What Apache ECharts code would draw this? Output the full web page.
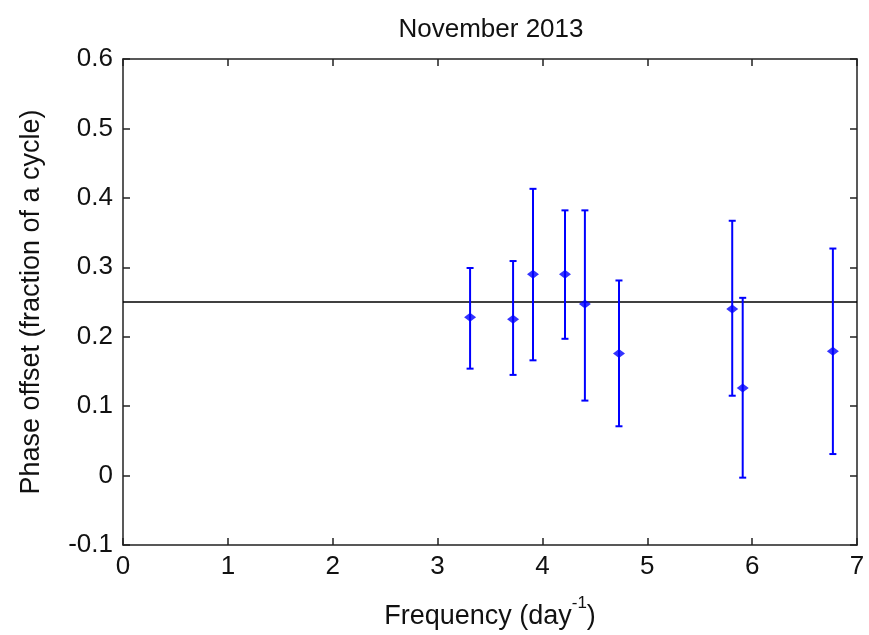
<!DOCTYPE html>
<html>
<head>
<meta charset="utf-8">
<script src="https://cdn.jsdelivr.net/npm/echarts@6/dist/echarts.min.js"></script>
<style>
html,body{margin:0;padding:0;background:#fff;}
#c{width:869px;height:635px;}
</style>
</head>
<body>
<div id="c"></div>
<script>
const titleText = 'November 2013';
const freq = [3.31, 3.72, 3.91, 4.215, 4.405, 4.73, 5.81, 5.91, 6.77];
const phase = [0.228, 0.225, 0.290, 0.290, 0.247, 0.176, 0.240, 0.126, 0.179];
const upper = [0.299, 0.309, 0.413, 0.382, 0.382, 0.281, 0.367, 0.256, 0.327];
const lower = [0.154, 0.145, 0.166, 0.197, 0.108, 0.071, 0.115, -0.003, 0.031];
const refLine = 0.25;
const xTicks = [0, 1, 2, 3, 4, 5, 6, 7];
const yTicks = [-0.1, 0, 0.1, 0.2, 0.3, 0.4, 0.5, 0.6];

const font = 'Liberation Sans, Arial, sans-serif';
const chart = echarts.init(document.getElementById('c'));

const errData = freq.map((f, i) => [f, lower[i], upper[i]]);
const ptData = freq.map((f, i) => [f, phase[i]]);

const baseAxis = {
  axisLine: {show: true, onZero: false, lineStyle: {color: '#222', width: 1.5}},
  axisTick: {show: true, inside: true, length: 7, lineStyle: {color: '#222', width: 1.5}},
  splitLine: {show: false}
};

chart.setOption({
  animation: false,
  backgroundColor: '#fff',
  title: {
    text: titleText, left: 486, top: 12, textAlign: 'center',
    textStyle: {fontFamily: font, fontSize: 26, fontWeight: 'normal', color: '#111'}
  },
  grid: {left: 123, right: 12, top: 59, bottom: 89},
  xAxis: [
    Object.assign({}, baseAxis, {
      type: 'value', min: 0, max: 7, interval: 1, position: 'bottom',
      name: '{a|Frequency (day}{s|-1}{a|)}', nameLocation: 'middle', nameGap: 50,
      nameTextStyle: {rich: {
        a: {fontFamily: font, fontSize: 27, color: '#111', padding: [8, 0, 0, 0]},
        s: {fontFamily: font, fontSize: 17, color: '#111', verticalAlign: 'top', padding: [0, 0, 10, 0]}
      }},
      axisLabel: {fontFamily: font, fontSize: 26, color: '#111', margin: 9,
        formatter: v => xTicks.includes(v) ? String(v) : ''}
    }),
    Object.assign({}, baseAxis, {
      type: 'value', min: 0, max: 7, interval: 1, position: 'top',
      axisLabel: {show: false}
    })
  ],
  yAxis: [
    Object.assign({}, baseAxis, {
      type: 'value', min: -0.1, max: 0.6, interval: 0.1, position: 'left',
      name: 'Phase offset (fraction of a cycle)', nameLocation: 'middle', nameGap: 78,
      nameTextStyle: {fontFamily: font, fontSize: 27, color: '#111'},
      axisLabel: {fontFamily: font, fontSize: 26, color: '#111', margin: 10,
        formatter: v => { const r = Math.round(v * 10) / 10; return r === 0 ? '0' : String(r); }}
    }),
    Object.assign({}, baseAxis, {
      type: 'value', min: -0.1, max: 0.6, interval: 0.1, position: 'right',
      axisLabel: {show: false}
    })
  ],
  series: [
    {
      type: 'line', data: [[0, refLine], [7, refLine]], symbol: 'none',
      lineStyle: {color: '#000', width: 1.5}, z: 1, silent: true
    },
    {
      type: 'custom', data: errData, z: 2,
      encode: {x: 0, y: [1, 2]},
      renderItem: function (params, api) {
        const x = api.value(0);
        const lo = api.coord([x, api.value(1)]);
        const hi = api.coord([x, api.value(2)]);
        const hw = 3.5;
        const style = {stroke: '#0000ff', lineWidth: 2};
        return {
          type: 'group',
          children: [
            {type: 'line', shape: {x1: lo[0], y1: lo[1], x2: hi[0], y2: hi[1]}, style: style},
            {type: 'line', shape: {x1: lo[0] - hw, y1: lo[1], x2: lo[0] + hw, y2: lo[1]}, style: style},
            {type: 'line', shape: {x1: hi[0] - hw, y1: hi[1], x2: hi[0] + hw, y2: hi[1]}, style: style}
          ]
        };
      }
    },
    {
      type: 'scatter', data: ptData, symbol: 'diamond', symbolSize: [12, 9], z: 3,
      itemStyle: {color: '#0000ff'}
    }
  ]
});
</script>
</body>
</html>
